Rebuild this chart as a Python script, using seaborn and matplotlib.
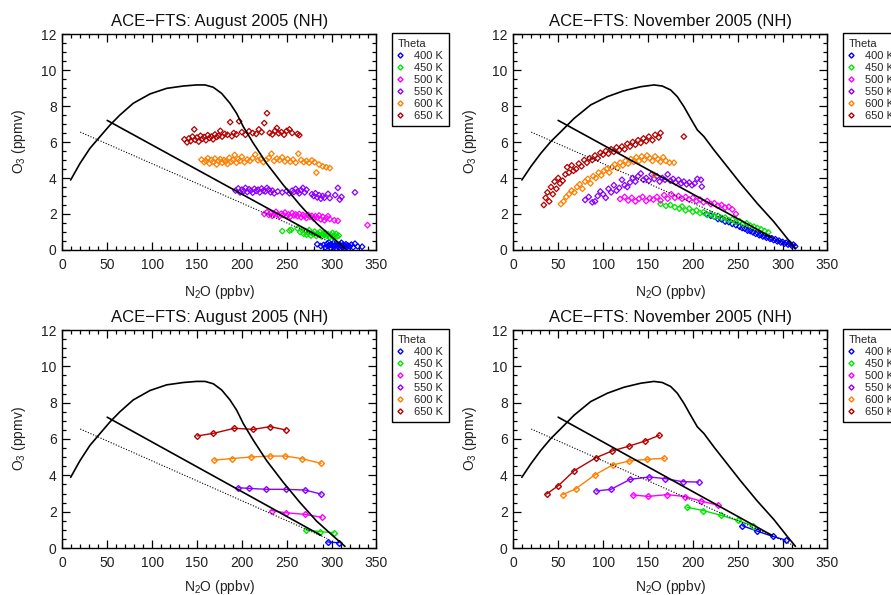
import numpy as np
import pandas as pd
import matplotlib
matplotlib.use("Agg")
import matplotlib.pyplot as plt
from matplotlib.lines import Line2D
from matplotlib.ticker import MultipleLocator
import seaborn as sns

# ---------------- data ----------------
thetas = ["400 K", "450 K", "500 K", "550 K", "600 K", "650 K"]
colors = ["#0000FF", "#00E600", "#FF00FF", "#8C00FF", "#FF8000", "#B40000"]

# reference curves (N2O ppbv, O3 ppmv)
aug_curve_x = [9.3, 19.7, 30.8, 42, 53.1, 64.2, 79, 97.7, 116.2, 134.8, 149.6, 159, 168.2, 177.5,
               186.8, 194.2, 201.6, 212.8, 227.6, 246.2, 264.8, 283.3, 301.9, 314.9]
aug_curve_y = [3.89, 4.81, 5.65, 6.3, 6.94, 7.5, 8.15, 8.67, 8.98, 9.11, 9.17, 9.17, 9.04, 8.7,
               8.15, 7.59, 6.85, 5.93, 4.81, 3.61, 2.5, 1.48, 0.65, 0.09]
nov_curve_x = [9.5, 19.5, 30.6, 41.7, 52.9, 67.7, 86.2, 104.8, 123.3, 141.9, 156.7, 166, 175.3,
               182.7, 190.1, 197.5, 205, 212.4, 223.5, 238.3, 253.1, 271.7, 290.2, 305, 314.3]
nov_curve_y = [3.89, 4.63, 5.37, 6.02, 6.57, 7.31, 8.06, 8.52, 8.85, 9.07, 9.17, 9.11, 8.89,
               8.52, 7.96, 7.31, 6.67, 6.3, 5.56, 4.63, 3.7, 2.59, 1.57, 0.65, 0.09]
solid_line_x = [50, 288]
solid_line_y = [7.2, 0.7]
aug_dotted_x = [20, 295]
aug_dotted_y = [6.55, 0.52]
nov_dotted_x = [20, 312]
nov_dotted_y = [6.55, 0.15]

# August 2005 individual measurements (x = N2O, y = O3)
aug_400 = [(284,0.32),(288,0.22),(291,0.28),(293,0.15),(295,0.35),(296,0.2),(297,0.42),(298,0.27),
           (299,0.12),(300,0.3),(301,0.22),(302,0.38),(303,0.18),(304,0.28),(305,0.1),(306,0.33),
           (307,0.22),(308,0.15),(309,0.3),(310,0.25),(311,0.4),(312,0.18),(313,0.28),(314,0.12),
           (315,0.22),(316,0.32),(317,0.15),(318,0.25),(320,0.2),(322,0.3),(324,0.15),(326,0.35),
           (329,0.2),(334,0.18)]
aug_450 = [(245,1.05),(253,1.08),(255,1.12),(262,1.2),(265,1.0),(267,1.1),(269,0.9),(271,1.05),
           (272,0.85),(274,0.95),(275,1.1),(277,0.8),(278,0.95),(280,0.88),(281,1.02),(283,0.78),
           (284,0.92),(286,0.85),(287,1.0),(289,0.75),(290,0.9),(292,0.82),(293,0.95),(295,0.78),
           (296,0.88),(298,0.72),(299,0.85),(301,0.95),(302,0.7),(303,0.82),(305,0.9),(306,0.75),
           (308,0.8)]
aug_500 = [(225,2.0),(228,2.1),(230,1.95),(232,2.05),(234,1.9),(236,2.0),(238,2.12),(240,1.95),
           (242,1.88),(244,2.02),(246,1.95),(248,2.08),(250,1.9),(252,1.98),(254,1.85),(256,2.05),
           (258,1.92),(260,1.98),(262,1.88),(264,2.0),(266,1.82),(268,1.95),(270,1.88),(272,1.78),
           (274,1.95),(276,1.85),(278,1.9),(280,1.75),(282,1.88),(284,1.8),(286,1.92),(288,1.7),
           (290,1.85),(292,1.65),(294,1.78),(296,1.88),(298,1.72),(303,1.65),(307,1.62),(340,1.38)]
aug_550 = [(193,3.3),(196,3.42),(198,3.2),(200,3.35),(202,3.28),(204,3.45),(206,3.22),(208,3.38),
           (210,3.3),(212,3.18),(214,3.4),(216,3.28),(218,3.35),(220,3.2),(222,3.42),(224,3.3),
           (226,3.25),(228,3.45),(230,3.35),(232,3.2),(234,3.3),(236,3.15),(240,3.25),(245,3.2),
           (250,3.28),(253,3.15),(256,3.3),(258,3.22),(260,3.4),(262,3.25),(264,3.15),(266,3.32),
           (268,3.45),(270,3.2),(272,3.35),(278,3.1),(280,3.0),(282,3.15),(284,2.92),(286,3.05),
           (288,2.85),(290,3.0),(292,2.9),(296,3.12),(298,2.88),(304,3.05),(307,3.45),(309,2.8),
           (311,2.95),(326,3.2)]
aug_600 = [(155,5.02),(158,4.88),(160,4.95),(162,5.1),(164,4.8),(166,5.0),(168,4.9),(170,5.08),
           (172,4.75),(174,4.95),(176,5.05),(178,4.85),(180,5.0),(182,4.92),(184,4.78),(186,5.12),
           (188,4.9),(190,5.0),(192,5.28),(194,4.85),(196,5.05),(198,4.95),(200,5.18),(203,4.88),
           (206,5.02),(209,4.95),(212,5.1),(215,5.3),(218,4.98),(221,5.05),(224,4.88),(227,5.0),
           (230,5.12),(233,5.35),(236,4.95),(239,5.08),(242,5.0),(245,5.15),(248,4.92),(251,5.05),
           (254,4.9),(257,5.02),(260,4.85),(263,5.35),(266,5.0),(269,4.88),(272,4.95),(275,4.85),
           (278,4.98),(281,4.88),(283,4.3),(286,4.75),(290,4.65),(294,4.6),(298,4.55)]
aug_650 = [(136,6.15),(139,5.98),(141,6.2),(143,6.05),(145,6.3),(147,6.7),(148,6.12),(150,6.25),
           (152,6.02),(154,6.35),(156,6.18),(158,6.28),(160,6.1),(162,6.38),(164,6.22),(166,6.3),
           (168,6.15),(170,6.42),(172,6.28),(174,6.35),(176,6.62),(178,6.3),(181,6.45),(184,6.4),
           (187,7.1),(189,6.32),(191,6.5),(194,6.42),(197,7.15),(200,6.55),(204,6.4),(208,6.6),
           (212,6.5),(216,6.45),(219,6.7),(222,6.55),(225,7.05),(228,7.6),(231,6.5),(234,6.42),
           (237,6.62),(239,6.78),(241,6.48),(244,6.55),(247,6.4),(250,6.62),(253,6.7),(256,6.5),
           (262,6.45),(264,6.38)]

# November 2005 individual measurements
nov_400 = [(215,2.0),(220,1.9),(224,1.85),(228,1.72),(232,1.7),(236,1.58),(240,1.55),(244,1.45),
           (248,1.38),(252,1.3),(255,1.22),(258,1.18),(261,1.08),(264,1.05),(267,0.98),(270,0.9),
           (272,0.95),(274,0.82),(276,0.85),(278,0.75),(280,0.78),(282,0.68),(284,0.72),(286,0.62),
           (288,0.65),(290,0.55),(292,0.6),(294,0.48),(296,0.52),(298,0.42),(300,0.45),(302,0.35),
           (304,0.4),(306,0.3),(308,0.35),(310,0.25),(312,0.3),(314,0.2)]
nov_450 = [(164,2.56),(170,2.45),(175,2.5),(180,2.38),(185,2.3),(188,2.42),(192,2.2),(196,2.3),
           (200,2.12),(204,2.2),(208,2.05),(212,2.1),(216,1.95),(220,2.0),(224,1.85),(228,1.9),
           (232,1.78),(236,1.8),(240,1.65),(244,1.7),(248,1.55),(252,1.6),(256,1.45),(260,1.48),
           (264,1.35),(268,1.3),(272,1.22),(276,1.15),(280,1.05),(284,0.98)]
nov_500 = [(119,2.83),(124,2.95),(128,2.75),(132,2.9),(136,2.7),(140,2.85),(144,2.95),(148,2.72),
           (152,2.88),(156,2.8),(160,2.95),(164,2.75),(168,3.05),(172,2.85),(176,3.1),(180,2.9),
           (184,3.0),(188,2.85),(192,2.95),(196,2.8),(200,2.9),(204,2.72),(208,2.8),(212,2.65),
           (216,2.72),(220,2.55),(224,2.6),(228,2.45),(232,2.5),(236,2.35),(240,2.4),(244,2.25),
           (248,2.0)]
nov_550 = [(80,2.78),(84,2.95),(88,2.65),(91,2.7),(94,3.0),(97,3.25),(100,3.1),(103,2.9),
           (106,3.4),(109,3.2),(112,3.6),(115,3.3),(118,3.45),(121,3.9),(124,3.6),(127,3.5),
           (130,3.75),(133,4.0),(136,3.8),(139,4.1),(142,4.25),(145,3.9),(148,4.0),(151,3.85),
           (154,4.2),(157,3.95),(160,4.1),(163,3.8),(166,4.0),(169,3.9),(172,4.2),(175,3.85),
           (178,3.95),(181,3.75),(184,3.9),(187,3.7),(190,3.8),(193,3.65),(196,3.75),(199,3.6),
           (202,3.7),(205,3.95),(209,3.9),(210,3.52)]
nov_600 = [(53,2.55),(56,2.7),(59,2.95),(62,3.1),(65,3.3),(68,3.2),(71,3.5),(74,3.65),(77,3.4),
           (80,3.8),(83,3.95),(86,3.7),(89,4.1),(92,4.0),(95,4.3),(98,4.15),(101,4.4),(104,4.5),
           (107,4.3),(110,4.6),(113,4.75),(116,4.55),(119,4.85),(122,4.7),(125,4.95),(128,4.8),
           (131,5.05),(134,4.9),(137,5.15),(140,4.95),(143,5.2),(146,5.0),(149,5.25),(152,5.1),
           (155,4.95),(157,4.17),(158,5.2),(161,5.05),(164,4.9),(167,5.15),(170,4.95),(174,4.85),
           (179,4.85)]
nov_650 = [(34,2.5),(36,2.9),(38,3.2),(40,2.7),(42,3.5),(44,3.1),(46,3.8),(48,3.4),(50,4.0),
           (52,3.7),(55,3.85),(58,4.2),(60,4.6),(62,4.3),(65,4.7),(67,4.4),(70,4.5),(73,4.8),
           (76,4.65),(79,5.0),(82,4.85),(85,5.1),(88,5.0),(91,5.25),(94,5.1),(97,5.4),(100,5.3),
           (103,5.5),(106,5.35),(109,5.6),(112,5.45),(115,5.7),(118,5.55),(121,5.75),(124,5.6),
           (127,5.9),(130,5.75),(133,6.0),(136,5.85),(139,6.1),(142,5.95),(145,6.2),(148,6.05),
           (151,6.3),(155,6.1),(158,6.4),(162,6.25),(164,6.5),(190,6.3)]

# binned means (bottom panels)
aug_mean_400 = [(295.6,0.33),(308.2,0.29)]
aug_mean_450 = [(271.4,0.99),(287.0,0.90),(302.6,0.84)]
aug_mean_500 = [(233.2,2.06),(248.8,1.94),(270.3,1.85),(288.9,1.69)]
aug_mean_550 = [(196.0,3.32),(208.3,3.28),(226.9,3.23),(248.8,3.23),(270.3,3.19),(288.2,2.97)]
aug_mean_600 = [(169.3,4.84),(188.6,4.92),(209.8,5.01),(231.3,5.06),(248.4,5.06),(266.6,4.92),(288.2,4.66)]
aug_mean_650 = [(150.4,6.17),(168.2,6.31),(191.6,6.59),(212.8,6.53),(231.3,6.68),(248.8,6.50)]

nov_mean_400 = [(255.1,1.23),(271.1,0.94),(288.9,0.64),(303.4,0.44)]
nov_mean_450 = [(193.8,2.24),(211.6,2.06),(231.3,1.80),(249.9,1.52),(266.6,1.23)]
nov_mean_500 = [(132.9,2.92),(150.4,2.84),(171.6,2.94),(191.2,2.83),(208.7,2.59),(228.4,2.35)]
nov_mean_550 = [(92.5,3.14),(108.8,3.23),(130.3,3.78),(151.5,3.91),(169.0,3.82),(188.6,3.65),(206.5,3.63)]
nov_mean_600 = [(55.0,2.94),(69.4,3.25),(90.6,4.02),(110.7,4.57),(128.9,4.79),(148.9,4.88),(168.2,4.94)]
nov_mean_650 = [(37.1,2.97),(50.1,3.43),(68.0,4.26),(92.1,4.97),(109.9,5.34),(129.2,5.61),(146.7,5.89),(162.6,6.20)]

aug_points = [aug_400, aug_450, aug_500, aug_550, aug_600, aug_650]
nov_points = [nov_400, nov_450, nov_500, nov_550, nov_600, nov_650]
aug_means = [aug_mean_400, aug_mean_450, aug_mean_500, aug_mean_550, aug_mean_600, aug_mean_650]
nov_means = [nov_mean_400, nov_mean_450, nov_mean_500, nov_mean_550, nov_mean_600, nov_mean_650]


def to_frame(series_list):
    rows = []
    for th, pts in zip(thetas, series_list):
        for x, y in pts:
            rows.append({"N2O": x, "O3": y, "Theta": th})
    return pd.DataFrame(rows)


# ---------------- style ----------------
sns.set_theme(style="ticks")
plt.rcParams["font.family"] = ["Liberation Sans", "DejaVu Sans"]
plt.rcParams["mathtext.fontset"] = "custom"
plt.rcParams["mathtext.rm"] = "Liberation Sans"
plt.rcParams["mathtext.it"] = "Liberation Sans:italic"
plt.rcParams["mathtext.bf"] = "Liberation Sans:bold"

fig = plt.figure(figsize=(8.91, 5.95), dpi=100)
W, H = 891.0, 595.0

def axes_px(left, top, right, bottom):
    return fig.add_axes([left / W, (H - bottom) / H, (right - left) / W, (bottom - top) / H])

ax_tl = axes_px(62.3, 34, 376.5, 250)
ax_tr = axes_px(513.3, 34, 827.5, 250)
ax_bl = axes_px(62.3, 330, 376.5, 548)
ax_br = axes_px(513.3, 330, 827.5, 548)


def decorate(ax, title, curve_x, curve_y, dot_x, dot_y, xlabel_y):
    sns.lineplot(x=curve_x, y=curve_y, ax=ax, color="black", linewidth=1.2,
                 sort=False, estimator=None, legend=False)
    sns.lineplot(x=solid_line_x, y=solid_line_y, ax=ax, color="black", linewidth=1.2,
                 sort=False, estimator=None, legend=False)
    sns.lineplot(x=dot_x, y=dot_y, ax=ax, color="black", linewidth=0.8, linestyle=(0, (1, 1.5)),
                 sort=False, estimator=None, legend=False)
    ax.set_xlim(0, 350)
    ax.set_ylim(0, 12)
    ax.xaxis.set_major_locator(MultipleLocator(50))
    ax.xaxis.set_minor_locator(MultipleLocator(10))
    ax.yaxis.set_major_locator(MultipleLocator(2))
    ax.yaxis.set_minor_locator(MultipleLocator(0.5))
    ax.tick_params(which="both", direction="in", bottom=True, left=True, top=True, right=True,
                   color="black", width=0.9, labelsize=10, labelcolor="#222222")
    ax.tick_params(which="major", length=6)
    ax.tick_params(which="minor", length=3)
    ax.tick_params(axis="x", pad=6)
    ax.tick_params(axis="y", pad=4)
    for sp in ax.spines.values():
        sp.set_color("black")
        sp.set_linewidth(1.0)
        sp.set_visible(True)
    ax.set_title(title, fontsize=12, pad=6, color="#111111")
    ax.set_xlabel(r"N$_{\mathrm{2}}$O (ppbv)", fontsize=10, color="#222222")
    ax.set_ylabel(r"O$_{\mathrm{3}}$ (ppmv)", fontsize=10, color="#222222")
    ax.xaxis.set_label_coords(0.5, xlabel_y)
    ax.yaxis.set_label_coords(-0.11, 0.5)
    handles = [Line2D([], [], marker="D", linestyle="none", markerfacecolor="none",
                      markeredgecolor=c, markersize=2.6, markeredgewidth=1.0) for c in colors]
    leg = ax.legend(handles, thetas, title="Theta", loc="upper left",
                    bbox_to_anchor=(1.049, 1.004), borderaxespad=0, frameon=True,
                    fancybox=False, framealpha=1, edgecolor="black", fontsize=8,
                    title_fontsize=8, alignment="left", handlelength=0.5,
                    handletextpad=1.0, labelspacing=0.18, borderpad=0.5)
    leg.get_frame().set_linewidth(1.0)


def scatter_panel(ax, series):
    df = to_frame(series)
    for th, c in zip(thetas, colors):
        sub = df[df["Theta"] == th]
        sns.scatterplot(data=sub, x="N2O", y="O3", ax=ax, marker="D", s=8, color=c,
                        facecolor="none", edgecolor=c, linewidth=0.9, legend=False)


def mean_panel(ax, series):
    df = to_frame(series)
    for th, c in zip(thetas, colors):
        sub = df[df["Theta"] == th]
        sns.lineplot(data=sub, x="N2O", y="O3", ax=ax, color=c, linewidth=1.0, marker="D",
                     markersize=3, markerfacecolor="none", markeredgecolor=c,
                     markeredgewidth=1.0, sort=False, estimator=None, legend=False)


scatter_panel(ax_tl, aug_points)
decorate(ax_tl, "ACE\u2212FTS: August 2005 (NH)", aug_curve_x, aug_curve_y,
         aug_dotted_x, aug_dotted_y, -0.153)
scatter_panel(ax_tr, nov_points)
decorate(ax_tr, "ACE\u2212FTS: November 2005 (NH)", nov_curve_x, nov_curve_y,
         nov_dotted_x, nov_dotted_y, -0.153)
mean_panel(ax_bl, aug_means)
decorate(ax_bl, "ACE\u2212FTS: August 2005 (NH)", aug_curve_x, aug_curve_y,
         aug_dotted_x, aug_dotted_y, -0.136)
mean_panel(ax_br, nov_means)
decorate(ax_br, "ACE\u2212FTS: November 2005 (NH)", nov_curve_x, nov_curve_y,
         nov_dotted_x, nov_dotted_y, -0.136)

fig.savefig("out.png", dpi=100)
